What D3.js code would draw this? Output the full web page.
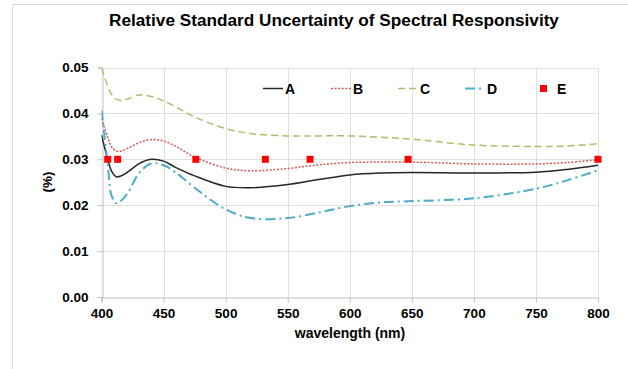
<!DOCTYPE html>
<html><head><meta charset="utf-8">
<script src="https://cdn.jsdelivr.net/npm/d3@7"></script>
<style>
body{margin:0;background:#fff;}
text{font-family:"Liberation Sans",Arial,sans-serif;font-weight:bold;fill:#000;}
</style></head>
<body><svg id="c" width="628" height="369"></svg>
<script>
const title = "Relative Standard Uncertainty of Spectral Responsivity";
const wavelengths = [400,405,408,412,416,422,430,440,450,460,475,500,520,550,575,600,625,650,700,750,775,800];
const seriesA = [.0353,.0300,.0275,.0262,.0264,.0274,.0290,.0300,.0296,.0282,.0264,.0241,.0238,.0245,.0256,.0266,.0270,.0271,.0270,.0272,.0278,.0287];
const seriesB = [.0388,.0348,.0328,.0318,.0318,.0325,.0336,.0343,.0340,.0328,.0305,.0281,.0275,.0280,.0288,.0293,.0294,.0294,.0290,.0290,.0293,.0299];
const seriesC = [.0498,.0460,.0442,.0431,.0428,.0432,.0440,.0437,.0427,.0414,.0392,.0367,.0356,.0351,.0351,.0351,.0348,.0344,.0331,.0328,.0329,.0334];
const seriesD = [.0407,.0290,.0222,.0204,.0210,.0230,.0269,.0291,.0287,.0271,.0238,.0191,.0172,.0172,.0184,.0198,.0206,.0209,.0215,.0236,.0254,.0276];
const pointsEx = [405,413,476,532,568,647,800];
const pointsEy = [.030,.030,.030,.030,.030,.030,.030];
const xTicks = [400,450,500,550,600,650,700,750,800];
const yTicks = [0,0.01,0.02,0.03,0.04,0.05];
const names = ["A","B","C","D","E"];

const svg = d3.select("#c");
svg.append("path").attr("d","M12.5,369 V4.5 H628").attr("fill","none").attr("stroke","#d9d9d9");

const x = d3.scaleLinear().domain([400,800]).range([101.5,598]);
const y = d3.scaleLinear().domain([0,0.05]).range([297,67.5]);

svg.append("text").attr("x",334).attr("y",26).attr("text-anchor","middle").style("font-size","17.2px").text(title);

svg.append("g").selectAll("line").data(yTicks.slice(1)).join("line")
  .attr("x1",x(400)).attr("x2",x(800)).attr("y1",d=>Math.round(y(d))+0.5).attr("y2",d=>Math.round(y(d))+0.5)
  .attr("stroke","#e0e0e0");
svg.append("g").selectAll("line").data(xTicks.slice(1)).join("line")
  .attr("y1",y(0)).attr("y2",y(0.05)).attr("x1",d=>Math.round(x(d))+0.5).attr("x2",d=>Math.round(x(d))+0.5)
  .attr("stroke","#e0e0e0");

const xa = svg.append("g").attr("transform",`translate(0,${Math.round(y(0))+0.5})`)
  .call(d3.axisBottom(x).tickValues(xTicks).tickSize(5).tickPadding(6));
xa.select(".domain").attr("stroke","#bfbfbf");
xa.selectAll(".tick line").attr("stroke","#bfbfbf");
xa.selectAll("text").style("font-size","13.5px").style("font-family","Liberation Sans, Arial").style("font-weight","bold").attr("fill","#000");

const ya = svg.append("g").attr("transform",`translate(${Math.round(x(400))+0.5},0)`)
  .call(d3.axisLeft(y).tickValues(yTicks).tickFormat(d3.format(".2f")).tickSize(5).tickPadding(9));
ya.select(".domain").attr("stroke","#bfbfbf");
ya.selectAll(".tick line").attr("stroke","#bfbfbf");
ya.selectAll("text").style("font-size","13.5px").style("font-family","Liberation Sans, Arial").style("font-weight","bold").attr("fill","#000");

svg.append("text").attr("transform","translate(52,182) rotate(-90)").attr("text-anchor","middle").style("font-size","13.5px").text("(%)");
svg.append("text").attr("x",350).attr("y",338).attr("text-anchor","middle").style("font-size","14px").text("wavelength (nm)");

const styles = [
  {data:seriesA, stroke:"#262626", dash:null, w:1.5},
  {data:seriesB, stroke:"#d0595a", dash:"2,1.6", w:1.5},
  {data:seriesC, stroke:"#a5c26a", dash:"7,4", w:1.5},
  {data:seriesD, stroke:"#4bacc6", dash:"10,4,2,4", w:2}
];
const line = d3.line().x((d,i)=>x(wavelengths[i])).y(d=>y(d)).curve(d3.curveCatmullRom.alpha(0.5));
svg.append("clipPath").attr("id","pc").append("rect").attr("x",x(400)).attr("y",y(0.05)-2).attr("width",x(800)-x(400)+2).attr("height",y(0)-y(0.05)+2);
const plot = svg.append("g").attr("clip-path","url(#pc)");
styles.forEach(s=>{
  plot.append("path").datum(s.data).attr("d",line).attr("fill","none")
    .attr("stroke",s.stroke).attr("stroke-width",s.w).attr("stroke-dasharray",s.dash);
});
svg.append("g").selectAll("rect").data(pointsEx).join("rect")
  .attr("x",(d,i)=>x(d)-3.5).attr("y",(d,i)=>y(pointsEy[i])-3.5).attr("width",7).attr("height",7).attr("fill","#ff0000");

const lg = svg.append("g");
const lx = [263,331,398,465,532];
const ly = 88.5;
names.forEach((n,i)=>{
  if(i<4){
    lg.append("line").attr("x1",lx[i]).attr("x2",lx[i]+20).attr("y1",ly).attr("y2",ly)
      .attr("stroke",styles[i].stroke).attr("stroke-width",styles[i].w).attr("stroke-dasharray",styles[i].dash);
  } else {
    lg.append("rect").attr("x",lx[i]+8).attr("y",ly-3.5).attr("width",7).attr("height",7).attr("fill","#ff0000");
  }
  lg.append("text").attr("x",i<4?lx[i]+22:lx[i]+25).attr("y",ly+5).style("font-size","14px").text(n);
});
</script></body></html>
